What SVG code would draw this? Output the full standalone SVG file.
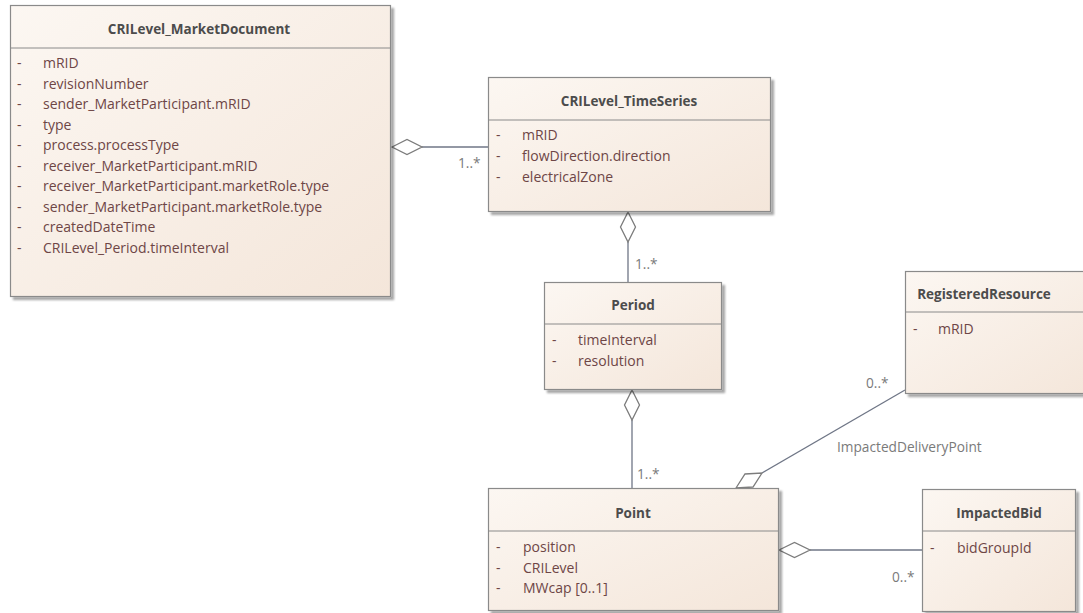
<svg xmlns="http://www.w3.org/2000/svg" width="1083" height="613" viewBox="0 0 1083 613">
<defs>
<linearGradient id="fill" x1="0" y1="0" x2="1" y2="1">
<stop offset="0" stop-color="#fcf7f2"/>
<stop offset="1" stop-color="#f4e6da"/>
</linearGradient>
<filter id="sh" x="-5%" y="-5%" width="115%" height="115%">
<feGaussianBlur in="SourceAlpha" stdDeviation="1.2"/>
<feOffset dx="3" dy="3"/>
<feComponentTransfer><feFuncA type="linear" slope="0.35"/></feComponentTransfer>
<feMerge><feMergeNode/><feMergeNode in="SourceGraphic"/></feMerge>
</filter>
</defs>
<style>
.box{fill:url(#fill);stroke:#8a8a8a;stroke-width:1.2;filter:url(#sh)}
.sep{stroke:#8a8a8a;stroke-width:1}
.title{font-family:"Open Sans","Liberation Sans",sans-serif;font-size:13.5px;font-weight:bold;fill:#4c4c4c;text-anchor:middle}
.attr{font-family:"Open Sans","Liberation Sans",sans-serif;font-size:14px;fill:#6e4646}
.lbl{font-family:"Open Sans","Liberation Sans",sans-serif;font-size:13.7px;fill:#7a7a7a}
.ln{stroke:#6f7686;stroke-width:1.3;fill:none}
.dia{fill:#ffffff;stroke:#7c7c7c;stroke-width:1.3}
</style>
<rect width="1083" height="613" fill="#ffffff"/>

<g id="connectors">
<line class="ln" x1="422" y1="147" x2="488" y2="147"/>
<polygon class="dia" points="392,147 407,139.5 422,147 407,154.5"/>
<line class="ln" x1="628" y1="242" x2="628" y2="282"/>
<polygon class="dia" points="628,212 635.5,227 628,242 620.5,227"/>
<line class="ln" x1="632" y1="420" x2="632" y2="488"/>
<polygon class="dia" points="632,390 639.5,405 632,420 624.5,405"/>
<line class="ln" x1="762" y1="473" x2="905" y2="390"/>
<polygon class="dia" points="736,488 745,474 762,473 753,487"/>
<line class="ln" x1="810" y1="550" x2="922" y2="550"/>
<polygon class="dia" points="779,550 794.5,542.5 810,550 794.5,557.5"/>
<text class="lbl" x="458" y="168">1..*</text>
<text class="lbl" x="635" y="269">1..*</text>
<text class="lbl" x="637" y="479">1..*</text>
<text class="lbl" x="866" y="388">0..*</text>
<text class="lbl" x="837" y="452">ImpactedDeliveryPoint</text>
<text class="lbl" x="892" y="582">0..*</text>
</g>

<g id="CRILevel_MarketDocument">
<rect class="box" x="10.5" y="5.5" width="380" height="291"/>
<line class="sep" x1="10.5" y1="48" x2="390.5" y2="48"/>
<text class="title" x="199" y="34">CRILevel_MarketDocument</text>
<g class="attr">
<text x="17" y="68">-</text><text x="43" y="68">mRID</text>
<text x="17" y="88.5">-</text><text x="43" y="88.5">revisionNumber</text>
<text x="17" y="109">-</text><text x="43" y="109">sender_MarketParticipant.mRID</text>
<text x="17" y="129.5">-</text><text x="43" y="129.5">type</text>
<text x="17" y="150">-</text><text x="43" y="150">process.processType</text>
<text x="17" y="170.5">-</text><text x="43" y="170.5">receiver_MarketParticipant.mRID</text>
<text x="17" y="191">-</text><text x="43" y="191">receiver_MarketParticipant.marketRole.type</text>
<text x="17" y="211.5">-</text><text x="43" y="211.5">sender_MarketParticipant.marketRole.type</text>
<text x="17" y="232">-</text><text x="43" y="232">createdDateTime</text>
<text x="17" y="252.5">-</text><text x="43" y="252.5">CRILevel_Period.timeInterval</text>
</g>
</g>

<g id="CRILevel_TimeSeries">
<rect class="box" x="488.5" y="77.5" width="282" height="134"/>
<line class="sep" x1="488.5" y1="120" x2="770.5" y2="120"/>
<text class="title" x="629" y="106">CRILevel_TimeSeries</text>
<g class="attr">
<text x="496" y="140">-</text><text x="522" y="140">mRID</text>
<text x="496" y="161">-</text><text x="522" y="161">flowDirection.direction</text>
<text x="496" y="182">-</text><text x="522" y="182">electricalZone</text>
</g>
</g>

<g id="Period">
<rect class="box" x="544.5" y="282.5" width="177" height="107"/>
<line class="sep" x1="544.5" y1="324" x2="721.5" y2="324"/>
<text class="title" x="633" y="310">Period</text>
<g class="attr">
<text x="552" y="345">-</text><text x="578" y="345">timeInterval</text>
<text x="552" y="365.5">-</text><text x="578" y="365.5">resolution</text>
</g>
</g>

<g id="RegisteredResource">
<rect class="box" x="905.5" y="271.5" width="190" height="122"/>
<line class="sep" x1="905.5" y1="312" x2="1095" y2="312"/>
<text class="title" x="984" y="299">RegisteredResource</text>
<g class="attr">
<text x="913" y="334">-</text><text x="938" y="334">mRID</text>
</g>
</g>

<g id="Point">
<rect class="box" x="488.5" y="488.5" width="290" height="122"/>
<line class="sep" x1="488.5" y1="531" x2="778.5" y2="531"/>
<text class="title" x="633" y="518">Point</text>
<g class="attr">
<text x="496" y="552">-</text><text x="523" y="552">position</text>
<text x="496" y="573">-</text><text x="523" y="573">CRILevel</text>
<text x="496" y="593">-</text><text x="523" y="593">MWcap [0..1]</text>
</g>
</g>

<g id="ImpactedBid">
<rect class="box" x="922.5" y="489.5" width="153" height="122"/>
<line class="sep" x1="922.5" y1="531" x2="1075.5" y2="531"/>
<text class="title" x="999" y="518">ImpactedBid</text>
<g class="attr">
<text x="930" y="553">-</text><text x="957" y="553">bidGroupId</text>
</g>
</g>
</svg>
